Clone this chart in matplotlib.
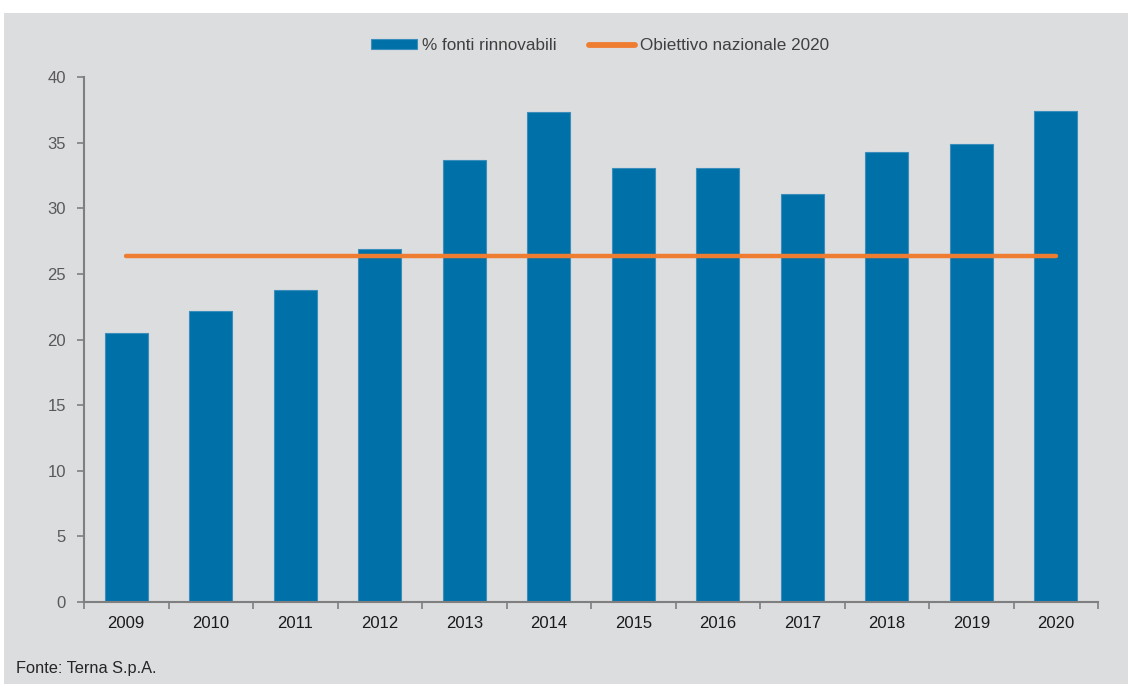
import matplotlib
matplotlib.use("Agg")
import matplotlib.pyplot as plt
from matplotlib.patches import Rectangle
from matplotlib import font_manager as fm

years = ["2009", "2010", "2011", "2012", "2013", "2014", "2015", "2016", "2017", "2018", "2019", "2020"]
renewables = [20.5, 22.2, 23.8, 26.9, 33.7, 37.3, 33.1, 33.1, 31.1, 34.3, 34.9, 37.4]
target_2020 = [26.4] * len(years)
yticks = [0, 5, 10, 15, 20, 25, 30, 35, 40]

names = {f.name for f in fm.fontManager.ttflist}
narrow = "Liberation Sans Narrow" if "Liberation Sans Narrow" in names else "Liberation Sans"

plt.rcParams["font.family"] = ["Liberation Sans", "DejaVu Sans"]

fig = plt.figure(figsize=(11.28, 6.84), dpi=100)
fig.patch.set_facecolor("white")
fig.add_artist(Rectangle((4 / 1128, 0), 1, 1 - 13 / 684, transform=fig.transFigure,
                         facecolor="#dcdddf", edgecolor="none", zorder=0))

ax = fig.add_axes([84 / 1128, 82 / 684, (1098 - 84) / 1128, (602 - 77) / 684])
ax.set_facecolor("none")
x = list(range(len(years)))
bars = ax.bar(x, renewables, width=0.51, color="#0071a8", edgecolor="#3b8dbb", linewidth=0.8,
              zorder=2, label="% fonti rinnovabili")
line, = ax.plot(x, target_2020, color="#ef7d31", linewidth=3.2, solid_capstyle="round",
                zorder=3, label="Obiettivo nazionale 2020")

ax.set_xlim(-0.5, len(years) - 0.5)
ax.set_ylim(0, 40)
ax.set_yticks(yticks)
ax.set_yticklabels([str(v) for v in yticks], fontsize=12, color="#595959")
ax.set_xticks(x)
ax.set_xticklabels(years, fontsize=12, color="#1a1a1a")
ax.tick_params(axis="x", length=0, pad=10)
ax.set_xticks([i + 0.5 for i in range(-1, len(years))], minor=True)
ax.tick_params(axis="x", which="minor", length=5, width=1.2, color="#7f7f7f", direction="out")
ax.tick_params(axis="y", length=5, width=1.2, color="#7f7f7f", direction="out", pad=8)
for s in ["top", "right"]:
    ax.spines[s].set_visible(False)
for s in ["left", "bottom"]:
    ax.spines[s].set_color("#7f7f7f")
    ax.spines[s].set_linewidth(1.5)

leg = fig.legend(handles=[bars, line], loc="center", bbox_to_anchor=(600 / 1128, 1 - 45.5 / 684),
                 ncol=2, frameon=False, handlelength=2.7, handleheight=0.5, columnspacing=1.9,
                 handletextpad=0.3, prop={"family": narrow, "size": 12.3})
for t in leg.get_texts():
    t.set_color("#404040")
for h in leg.legend_handles:
    if hasattr(h, "set_linewidth") and not isinstance(h, Rectangle):
        h.set_linewidth(4.2)

fig.text(16 / 1128, 1 - 669 / 684, "Fonte: Terna S.p.A.", family=narrow, fontsize=11.8,
         color="#262626", va="center", ha="left")

fig.savefig("out.png", dpi=100, facecolor=fig.get_facecolor())
